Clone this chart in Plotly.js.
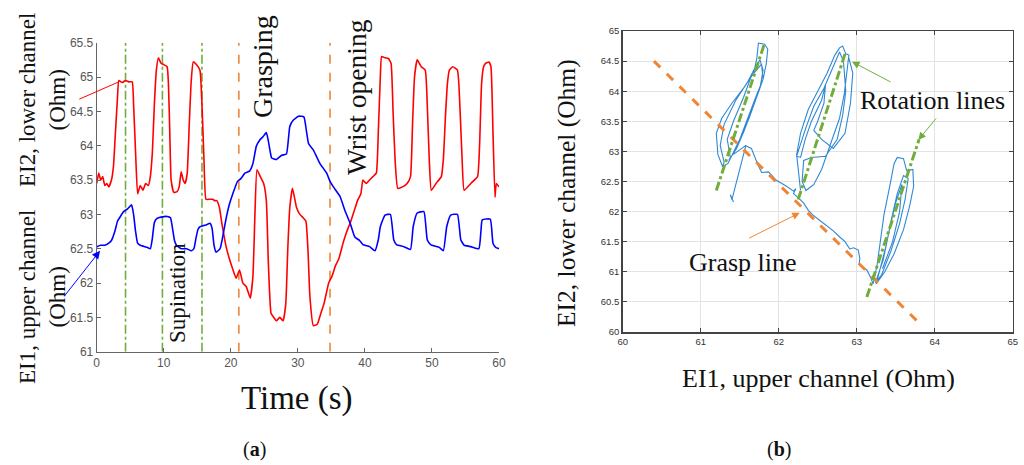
<!DOCTYPE html>
<html>
<head>
<meta charset="utf-8">
<script src="https://cdn.plot.ly/plotly-3.0.1.min.js"></script>
<style>html,body{margin:0;padding:0;background:#fff;}#chart{width:1024px;height:465px;}</style>
</head>
<body>
<div id="chart"></div>
<script>
// ---- (a) time series ----
const redTime = [0,0.3,0.6,0.9,1.2,1.5,1.8,2.2,2.5,2.8,
  3.1,3.3,3.8,4.3,4.8,5.3,5.5,5.8,6.1,6.5,
  6.9,7.3,7.7,8.0,8.3,8.6,8.9,9.2,9.6,10.0,
  10.5,10.7,10.9,11.1,11.5,12.0,12.3,12.6,12.9,13.2,
  13.5,13.8,14.1,14.4,14.9,15.4,15.7,16.0,16.3,16.8,
  17.3,17.6,17.9,18.3,18.7,19.3,19.8,20.3,20.8,21.3,
  21.8,22.3,22.9,23.3,23.6,23.9,24.4,24.9,25.3,25.6,
  26.0,26.4,26.8,27.3,27.8,28.2,28.5,28.8,29.2,29.8,
  30.3,30.8,31.2,31.5,31.8,32.3,32.9,33.4,33.9,34.6,
  35.1,35.6,36.1,36.8,37.3,37.9,38.4,38.9,39.4,39.7,
  40.2,40.7,41.2,41.7,42.0,42.3,42.5,43.0,43.5,43.9,
  44.2,44.5,44.9,45.6,46.3,46.8,47.1,47.4,47.8,48.4,
  49.0,49.3,49.6,49.9,50.6,51.4,51.7,52.0,52.3,52.6,
  53.1,53.8,54.2,54.5,54.8,55.8,56.8,57.1,57.4,57.7,
  58.0,58.5,58.8,59.1,59.4,59.6,60];
const redEI2 = [63.45,63.6,63.5,63.55,63.42,63.45,63.4,63.5,63.7,64.2,
  64.7,64.95,64.92,64.95,64.93,64.93,64.6,63.9,63.3,63.42,
  63.35,63.45,63.42,63.55,63.9,64.6,65.1,65.28,65.2,65.18,
  65.15,64.9,64.2,63.5,63.32,63.33,63.4,63.62,63.5,63.45,
  63.6,64.3,64.95,65.22,65.18,65.1,64.6,63.8,63.22,63.22,
  63.22,63.2,63.2,63.1,62.85,62.53,62.35,62.2,62.07,62.19,
  62.0,61.95,61.78,62.1,63.0,63.65,63.55,63.45,63.2,62.3,
  61.56,61.5,61.45,61.5,61.45,61.7,62.5,63.1,63.38,63.1,
  63.0,62.95,62.9,62.5,61.8,61.38,61.4,61.55,61.7,62.0,
  62.1,62.25,62.35,62.6,62.75,62.9,63.05,63.2,63.3,63.5,
  63.45,63.5,63.55,63.6,64.2,65.0,65.3,65.28,65.27,65.2,
  64.5,63.8,63.38,63.4,63.45,63.55,64.3,65.0,65.25,65.15,
  65.1,64.6,63.8,63.35,63.45,63.55,63.8,64.4,64.9,65.1,
  65.15,65.1,64.5,63.8,63.35,63.45,63.55,64.0,64.9,65.15,
  65.2,65.22,65.15,64.2,63.25,63.45,63.4];
const blueTime = [0,0.6,1.2,1.8,2.2,2.7,3.1,3.6,4.0,4.6,
  5.2,5.5,5.8,6.1,6.5,7.5,8.0,8.3,8.6,9.0,
  9.6,10.5,11.0,11.3,11.6,11.9,12.6,13.4,14.1,14.5,
  14.8,15.1,15.4,16.4,16.9,17.2,17.5,17.8,18.4,18.9,
  19.3,19.8,20.3,21.0,21.5,22.1,22.8,23.3,23.8,24.3,
  24.8,25.3,25.6,25.9,26.1,26.8,27.6,28.3,28.8,29.3,
  30.1,30.9,31.3,31.6,32.3,33.3,34.3,34.8,35.3,36.3,
  37.0,37.8,38.5,39.2,39.7,40.7,41.5,42.0,42.3,43.0,
  43.8,44.3,44.7,45.8,46.8,47.2,47.8,48.8,49.3,49.8,
  51.1,51.7,52.2,52.8,53.8,54.3,54.8,55.8,57.0,57.3,
  57.5,58.7,59.1,59.5,60];
const blueEI1 = [62.53,62.55,62.55,62.58,62.62,62.75,62.9,62.98,63.04,63.08,
  63.14,63.0,62.75,62.58,62.55,62.52,62.5,62.65,62.88,62.94,
  62.96,62.97,62.95,62.8,62.62,62.55,62.5,62.5,62.47,62.5,
  62.65,62.78,62.82,62.85,62.87,62.8,62.55,62.45,62.5,62.73,
  62.94,63.15,63.3,63.48,63.52,63.6,63.63,63.74,63.99,64.08,
  64.13,64.19,64.07,63.9,63.82,63.8,63.86,63.88,64.28,64.37,
  64.43,64.42,64.2,64.03,63.94,63.74,63.6,63.48,63.4,63.26,
  63.06,62.87,62.67,62.62,62.56,62.53,62.47,62.63,62.82,62.99,
  63.0,62.63,62.56,62.53,62.49,62.82,63.02,63.04,62.63,62.56,
  62.52,62.47,62.82,62.99,63.0,62.63,62.55,62.53,62.5,62.75,
  62.92,62.93,62.58,62.52,62.5];
const rotationTimes = [4.3, 9.8, 15.7];
const graspTimes = [21.2, 34.8];
const xTicksA = [0,10,20,30,40,50,60];
const yTicksA = [61,61.5,62,62.5,63,63.5,64,64.5,65,65.5];

// ---- (b) EI1 vs EI2 ----
const scatEI1 = [61.28,61.22,61.2,61.27,61.4,61.55,61.68,61.72,61.74,61.82,61.86,61.84,61.8,61.72,61.62,61.52,61.42,61.35,61.28,
  61.3,61.25,61.3,61.45,61.6,61.7,61.76,61.8,61.76,61.66,61.56,61.46,61.36,
  61.38,61.34,61.42,61.55,61.65,61.78,61.8,61.72,61.62,61.5,61.42,
  61.58,61.52,61.45,61.4,61.38,61.42,null,
  61.57,61.65,61.72,61.78,61.87,61.97,62.1,62.19,62.22,62.19,62.26,62.32,62.38,62.44,62.52,62.62,62.7,62.79,62.85,62.91,62.96,63.02,63.04,63.03,63.1,63.13,63.18,63.21,
  63.26,63.3,63.35,63.42,63.48,63.52,63.6,63.64,63.72,63.73,63.68,63.6,63.48,63.36,63.25,
  63.3,63.38,63.45,63.52,63.6,63.66,63.62,63.55,63.44,63.32,63.24,
  63.34,63.42,63.5,63.58,63.55,63.46,63.33,null,
  62.28,62.26,62.23,62.28,62.38,62.5,62.62,62.72,62.78,62.82,62.86,62.9,62.88,62.84,62.78,62.66,62.55,62.45,62.35,
  62.3,62.32,62.42,62.6,62.75,62.82,62.86,62.83,62.78,62.7,62.58,62.45,62.35,62.25,62.23,62.28,
  62.34,62.42,62.55,62.6,62.58,62.5,62.45,62.55,62.7,62.85,62.92,62.95,62.9];
const scatEI2 = [62.75,62.95,63.3,63.55,63.8,64.05,64.3,64.55,64.8,64.78,64.7,64.45,64.2,63.9,63.55,63.25,62.98,62.8,62.75,
  62.82,63.1,63.45,63.85,64.15,64.4,64.52,64.35,64.05,63.7,63.35,63.05,62.85,
  62.9,63.2,63.5,63.9,64.25,64.45,64.2,63.95,63.6,63.2,62.95,
  63.1,62.8,62.45,62.2,62.28,62.16,null,
  63.1,63.05,62.82,62.65,62.66,62.52,62.42,62.34,62.38,62.3,62.22,62.14,62.02,61.94,61.86,61.76,61.68,61.57,61.5,61.38,61.4,61.36,61.22,61.12,61.05,61.03,60.9,60.8,
  61.1,61.5,61.95,62.4,62.8,62.9,62.88,62.68,62.7,62.42,62.1,61.7,61.3,61.0,60.8,
  61.05,61.45,61.9,62.3,62.6,62.55,62.2,61.8,61.35,60.95,60.82,
  61.2,61.7,62.15,62.45,62.0,61.5,61.05,null,
  62.35,62.6,62.95,63.3,63.7,64.0,64.3,64.6,64.72,64.75,64.62,64.6,64.35,63.95,63.55,63.1,62.7,62.45,62.35,
  62.5,62.85,62.9,62.92,63.2,63.6,64.0,64.5,64.65,64.4,64.05,63.75,63.4,63.0,62.92,62.9,
  63.2,63.5,63.85,64.1,63.8,63.5,63.35,63.2,63.05,63.3,63.8,64.3,64.55];
const graspLineEI1 = [60.4, 63.8];
const graspLineEI2 = [64.5, 60.15];
const rotLine1EI1 = [61.2, 61.82], rotLine1EI2 = [62.35, 64.8];
const rotLine2EI1 = [62.25, 62.85], rotLine2EI2 = [62.2, 64.62];
const rotLine3EI1 = [63.13, 63.8], rotLine3EI2 = [60.58, 63.2];
const ticksB = [60,61,62,63,64,65];
const yTicksB = [60,60.5,61,61.5,62,62.5,63,63.5,64,64.5,65];

const GREEN = '#72ad3c', ORANGE = '#ef8636';
const traces = [];
rotationTimes.forEach(t => traces.push({x:[t,t], y:[61,65.5], xaxis:'x', yaxis:'y', mode:'lines',
  line:{color:GREEN, width:1.6, dash:'dashdot'}, hoverinfo:'skip'}));
graspTimes.forEach(t => traces.push({x:[t,t], y:[61,65.5], xaxis:'x', yaxis:'y', mode:'lines',
  line:{color:ORANGE, width:1.6, dash:'dash'}, hoverinfo:'skip'}));
traces.push({x:redTime, y:redEI2, xaxis:'x', yaxis:'y', mode:'lines', line:{color:'#ff0000', width:1.6, shape:'spline', smoothing:0.4}});
traces.push({x:blueTime, y:blueEI1, xaxis:'x', yaxis:'y', mode:'lines', line:{color:'#0000ff', width:1.6, shape:'spline', smoothing:0.4}});

traces.push({x:scatEI1, y:scatEI2, xaxis:'x2', yaxis:'y2', mode:'lines', line:{color:'#2f88d4', width:1.1}, connectgaps:false});
traces.push({x:graspLineEI1, y:graspLineEI2, xaxis:'x2', yaxis:'y2', mode:'lines', line:{color:ORANGE, width:3, dash:'dash'}});
[[rotLine1EI1,rotLine1EI2],[rotLine2EI1,rotLine2EI2],[rotLine3EI1,rotLine3EI2]].forEach(p =>
  traces.push({x:p[0], y:p[1], xaxis:'x2', yaxis:'y2', mode:'lines', line:{color:GREEN, width:3, dash:'dashdot'}}));

const W = 1024, H = 465;
const px = v => v / W, py = v => 1 - v / H;
const SERIF = 'Liberation Serif';
function txt(text, x, y, size, angle) {
  return {text:text, xref:'paper', yref:'paper', x:px(x), y:py(y), showarrow:false,
    textangle: angle || 0, font:{family:SERIF, size:size, color:'#111'}, xanchor:'center', yanchor:'middle'};
}
const annotations = [
  txt('EI2, lower channel<br>(Ohm)', 42, 100, 23, -90),
  txt('EI1, upper channel<br>(Ohm)', 42, 297, 23, -90),
  txt('Grasping', 263, 67, 28, -90),
  txt('Wrist opening', 356, 97, 27.5, -90),
  txt('Supination', 177, 293, 23, -90),
  txt('Time (s)', 297, 398, 33, 0),
  txt('(<b>a</b>)', 254, 449, 20, 0),
  txt('(<b>b</b>)', 779, 449, 20, 0),
  txt('EI2, lower channel (Ohm)', 566, 193, 25.5, -90),
  txt('EI1, upper channel (Ohm)', 818, 378, 26, 0),
  txt('Rotation lines', 932, 100, 26, 0),
  txt('Grasp line', 743, 262, 26, 0),
  {text:'', xref:'x', yref:'y', x:3.3, y:64.93, ax:-41, ay:18, showarrow:true, arrowhead:0, arrowwidth:1, arrowcolor:'#ff0000'},
  {text:'', xref:'x', yref:'y', x:0.5, y:62.47, ax:-37, ay:47, showarrow:true, arrowhead:2, arrowsize:1.6, arrowwidth:1, arrowcolor:'#0000ff'},
  {text:'', xref:'x2', yref:'y2', x:62.94, y:64.49, ax:40, ay:21, showarrow:true, arrowhead:2, arrowsize:1.5, arrowwidth:1, arrowcolor:GREEN},
  {text:'', xref:'x2', yref:'y2', x:63.79, y:63.19, ax:19, ay:-23, showarrow:true, arrowhead:2, arrowsize:1.5, arrowwidth:1, arrowcolor:GREEN},
  {text:'', xref:'x2', yref:'y2', x:62.27, y:61.98, ax:-52, ay:26, showarrow:true, arrowhead:2, arrowsize:1.5, arrowwidth:1, arrowcolor:ORANGE}
];

const tickFontA = {family:'Liberation Sans', size:12, color:'#555'};
const tickFontB = {family:'Liberation Sans', size:9.5, color:'#333'};
const layout = {
  width:W, height:H, margin:{l:0, r:0, t:0, b:0}, showlegend:false,
  paper_bgcolor:'#fff', plot_bgcolor:'rgba(0,0,0,0)',
  xaxis:{domain:[px(96.7), px(499)], range:[0,60], tickvals:xTicksA, ticks:'inside', ticklen:4, tickcolor:'#666',
    showline:true, linecolor:'#666', linewidth:1, showgrid:false, zeroline:false, tickfont:tickFontA, anchor:'y'},
  yaxis:{domain:[py(351.7), py(42.7)], range:[61,65.5], tickvals:yTicksA, ticktext:yTicksA.map(String), ticks:'inside', ticklen:4, tickcolor:'#666',
    showline:true, linecolor:'#666', linewidth:1, showgrid:false, zeroline:false, tickfont:tickFontA, anchor:'x'},
  xaxis2:{domain:[px(622.7), px(1012.7)], range:[60,65], tickvals:ticksB, ticks:'inside', ticklen:4, tickcolor:'#444',
    showline:true, mirror:'ticks', linecolor:'#444', linewidth:1.5, showgrid:true, gridcolor:'#e3e3e3', zeroline:false, tickfont:tickFontB, anchor:'y2'},
  yaxis2:{domain:[py(332), py(31)], range:[60,65], tickvals:yTicksB, ticktext:yTicksB.map(String), ticks:'inside', ticklen:4, tickcolor:'#444',
    showline:true, mirror:'ticks', linecolor:'#444', linewidth:1.5, showgrid:true, gridcolor:'#e3e3e3', zeroline:false, tickfont:tickFontB, anchor:'x2'},
  annotations: annotations
};
Plotly.newPlot('chart', traces, layout, {displayModeBar:false, staticPlot:true});
</script>
</body>
</html>
